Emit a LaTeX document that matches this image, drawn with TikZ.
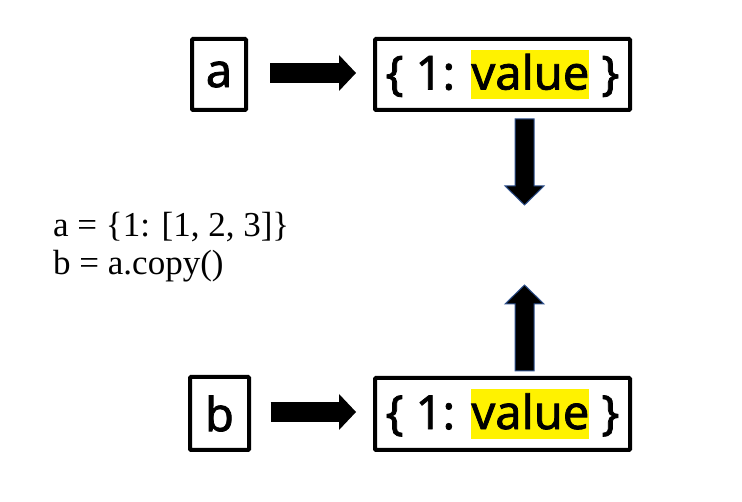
\documentclass[tikz,border=0pt]{standalone}
\usepackage{fontspec}
\setmainfont{Liberation Serif}
\newfontfamily\uifont{Noto Sans}[FakeBold=1.6]
\usetikzlibrary{arrows.meta,calc}
\definecolor{arrowedge}{HTML}{2F528F}
\newcommand\hlval[1]{{\setlength{\fboxsep}{0pt}\colorbox{yellow}{\rule[-0.21em]{0pt}{1.06em}#1}}}
\begin{document}
\begin{tikzpicture}[x=1pt,y=-1pt,
  box/.style={draw=black, line width=4pt, rounded corners=1pt, inner sep=0pt,
    font=\uifont\fontsize{47}{56}\selectfont},
  harrow/.style={line width=20pt, -{Triangle[length=17pt,width=36pt,line width=0pt]}},
  varrow/.style={fill=black, draw=arrowedge, line width=1pt, line join=miter},
  code/.style={font=\fontsize{35}{42}\selectfont, anchor=base west, inner sep=0pt}]
\useasboundingbox (0,0) rectangle (742,502);

\node[box, minimum width=54pt, minimum height=71pt] (boxa) at (219,74.5) {a};
\node[box, minimum width=255pt, minimum height=71pt] (vtop) at (502.5,74.5) {\{ 1: \hlval{value} \}};
\node[box, minimum width=59pt, minimum height=73pt] (boxb) at (219.5,413.5) {b};
\node[box, minimum width=255pt, minimum height=72pt] (vbot) at (502.5,414) {\{ 1: \hlval{value} \}};

\draw[harrow] ([shift={(22,-1.5)}]boxa.east) -- ([shift={(-17,-1.5)}]vtop.west);
\draw[harrow] ([shift={(19.5,-1.5)}]boxb.east) -- ([shift={(-17,-2)}]vbot.west);

\coordinate (ds) at ([shift={(22,7)}]vtop.south);
\coordinate (dt) at ([shift={(22,93)}]vtop.south);
\coordinate (us) at ([shift={(22,-5)}]vbot.north);
\coordinate (ut) at ([shift={(22,-91)}]vbot.north);

\filldraw[varrow] ($(ds)+(-9.5,0)$) -- ($(dt)+(-9.5,-19)$) -- ($(dt)+(-19.5,-19)$) -- (dt)
  -- ($(dt)+(19.5,-19)$) -- ($(dt)+(9.5,-19)$) -- ($(ds)+(9.5,0)$) -- cycle;
\filldraw[varrow] ($(us)+(-9.5,0)$) -- ($(ut)+(-9.5,19)$) -- ($(ut)+(-19.5,19)$) -- (ut)
  -- ($(ut)+(19.5,19)$) -- ($(ut)+(9.5,19)$) -- ($(us)+(9.5,0)$) -- cycle;

\node[code] (l1) at (53,237) {a = \{1: [1, 2, 3]\}};
\node[code] (l2) at (53,275) {b = a.copy()};
\end{tikzpicture}
\end{document}
